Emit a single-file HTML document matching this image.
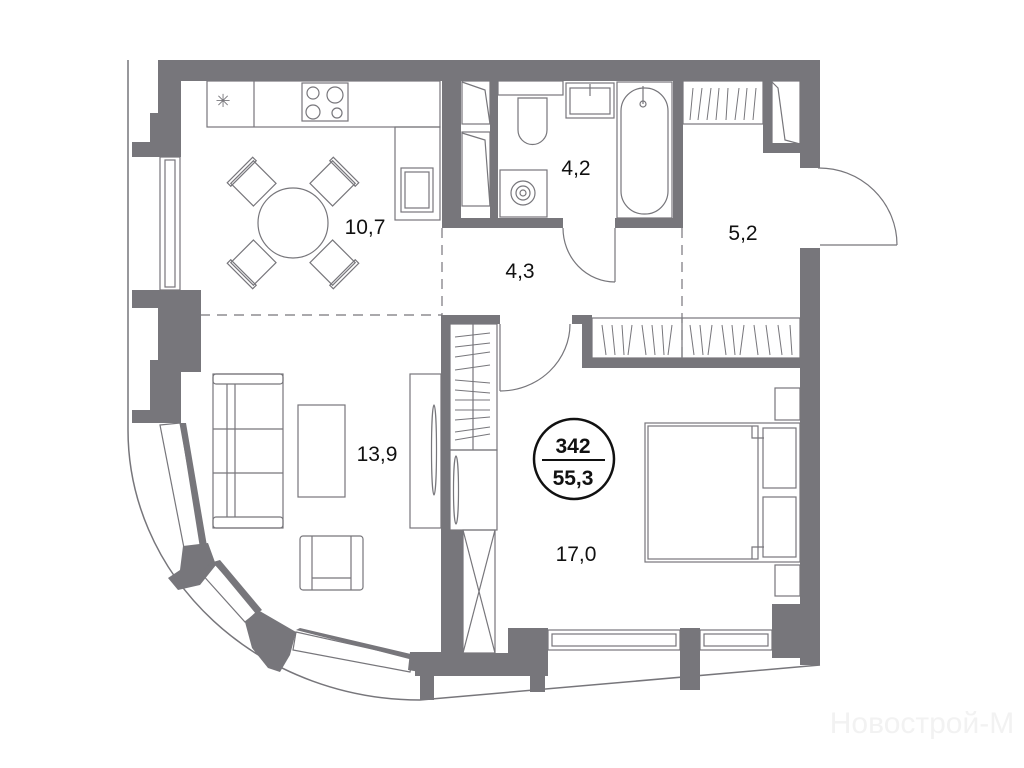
<!DOCTYPE html>
<html><head><meta charset="utf-8"><style>
html,body{margin:0;padding:0;background:#fff;width:1024px;height:768px;overflow:hidden}
svg{display:block}
text{font-family:"Liberation Sans",sans-serif}
</style></head><body>
<svg width="1024" height="768" viewBox="0 0 1024 768" xmlns="http://www.w3.org/2000/svg">
<g fill="none" stroke="#77767b" stroke-width="1.5">
<path d="M128,60 L128,430 A292,270 0 0 0 420,700 L820,665"/>
</g>
<g fill="#77767b">
<rect x="158" y="60" width="662" height="21"/>
<rect x="158" y="60" width="23" height="97"/>
<rect x="150" y="113" width="10" height="44"/>
<rect x="132" y="142" width="49" height="15"/>
<rect x="132" y="290" width="49" height="18"/>
<rect x="158" y="290" width="43" height="82"/>
<rect x="150" y="360" width="31" height="63"/>
<rect x="132" y="410" width="49" height="13"/>
<polygon points="180,423 186,423 207,546 200,548"/>
<polygon points="183,546 208,543 216,565 200,585 178,590 168,578 180,570"/>
<polygon points="213,562 220,560 262,610 256,614"/>
<polygon points="245,622 258,610 296,632 290,655 280,672 268,668 252,648"/>
<polygon points="296,630 300,628 415,655 413,660"/>
<polygon points="410,652 445,652 445,676 434,676 434,700 420,700 420,672 408,670"/>
<rect x="415" y="653" width="130" height="23"/>
<rect x="508" y="628" width="40" height="48"/>
<rect x="530" y="660" width="15" height="32"/>
<rect x="680" y="628" width="20" height="62"/>
<rect x="772" y="604" width="48" height="54"/>
<rect x="800" y="248" width="20" height="417"/>
<rect x="800" y="60" width="20" height="108"/>
<rect x="442" y="60" width="19" height="168"/>
<rect x="490" y="80" width="8" height="140"/>
<rect x="442" y="218" width="121" height="10"/>
<rect x="615" y="218" width="68" height="10"/>
<rect x="673" y="60" width="10" height="168"/>
<rect x="763" y="80" width="9" height="73"/>
<rect x="763" y="143" width="37" height="10"/>
<rect x="441" y="315" width="59" height="9"/>
<rect x="441" y="315" width="9" height="345"/>
<rect x="441" y="530" width="22" height="128"/>
<rect x="572" y="315" width="20" height="9"/>
<rect x="582" y="315" width="10" height="53"/>
<rect x="582" y="358" width="218" height="10"/>
</g>
<g fill="none" stroke="#77767b" stroke-width="1.2">
<rect x="160" y="157" width="20" height="133"/>
<rect x="165" y="160" width="10" height="127"/>
<polygon points="160,425 180,423 202,545 184,548"/>
<polygon points="200,572 213,562 258,612 245,622"/>
<polygon points="293,650 296,632 413,658 410,672"/>
<rect x="548" y="630" width="132" height="20"/>
<rect x="552" y="634" width="124" height="12"/>
<rect x="700" y="630" width="72" height="20"/>
<rect x="704" y="634" width="64" height="12"/>
</g>
<g stroke="#77767b" stroke-width="1.2" stroke-dasharray="10,7" fill="none">
<line x1="442" y1="228" x2="442" y2="315"/>
<line x1="200" y1="315" x2="442" y2="315"/>
<line x1="682" y1="228" x2="682" y2="358"/>
</g>
<g fill="none" stroke="#77767b" stroke-width="1.2">
<rect x="207" y="81" width="233" height="46"/>
<line x1="254" y1="81" x2="254" y2="127"/>
<rect x="302" y="83" width="46" height="38"/>
<circle cx="313" cy="93" r="6"/><circle cx="335" cy="95" r="8"/>
<circle cx="313" cy="112" r="7"/><circle cx="337" cy="113" r="5"/>
<rect x="395" y="127" width="45" height="93"/>
<rect x="401" y="168" width="32" height="44"/><rect x="405" y="172" width="24" height="36"/>
<circle cx="293" cy="223" r="35"/>
<g transform="translate(293,223)">
<g transform="rotate(-45)"><rect x="-16" y="-72" width="32" height="32"/><rect x="-18" y="-75" width="36" height="5"/></g>
<g transform="rotate(45)"><rect x="-16" y="-72" width="32" height="32"/><rect x="-18" y="-75" width="36" height="5"/></g>
<g transform="rotate(135)"><rect x="-16" y="-72" width="32" height="32"/><rect x="-18" y="-75" width="36" height="5"/></g>
<g transform="rotate(225)"><rect x="-16" y="-72" width="32" height="32"/><rect x="-18" y="-75" width="36" height="5"/></g>
</g>
<rect x="462" y="81" width="28" height="43"/><rect x="462" y="132" width="28" height="74"/>
<polyline points="462,82 485,90 490,124"/><polyline points="462,133 485,140 490,206"/>
<rect x="498" y="81" width="65" height="14"/>
<path d="M518,98 L547,98 L547,130 A14,14 0 0 1 518,130 Z"/>
<rect x="566" y="83" width="48" height="35"/><rect x="570" y="88" width="40" height="26"/>
<line x1="590" y1="84" x2="590" y2="96"/>
<rect x="617" y="82" width="55" height="136"/>
<rect x="621" y="88" width="47" height="126" rx="23"/>
<circle cx="643" cy="104" r="3"/><line x1="643" y1="86" x2="643" y2="104"/>
<rect x="500" y="170" width="47" height="47"/>
<circle cx="523" cy="193" r="12"/><circle cx="523" cy="193" r="7"/><circle cx="523" cy="193" r="3"/>
<rect x="683" y="81" width="80" height="43"/>
<g stroke-width="1">
<line x1="690" y1="120" x2="693" y2="88"/><line x1="698" y1="120" x2="702" y2="88"/><line x1="707" y1="120" x2="711" y2="88"/><line x1="716" y1="120" x2="719" y2="88"/><line x1="726" y1="120" x2="728" y2="88"/><line x1="735" y1="120" x2="739" y2="88"/><line x1="744" y1="120" x2="747" y2="88"/><line x1="753" y1="120" x2="756" y2="88"/>
</g>
<rect x="772" y="81" width="28" height="63"/><polyline points="772,82 778,88 785,140 800,144"/>
<rect x="592" y="318" width="208" height="40"/>
<line x1="682" y1="318" x2="682" y2="358"/>
<g stroke-width="1">
<line x1="602" y1="325" x2="606" y2="355"/><line x1="612" y1="325" x2="615" y2="355"/><line x1="622" y1="325" x2="624" y2="355"/><line x1="632" y1="325" x2="628" y2="355"/><line x1="642" y1="325" x2="646" y2="355"/><line x1="652" y1="325" x2="655" y2="355"/><line x1="662" y1="325" x2="664" y2="355"/><line x1="672" y1="325" x2="668" y2="355"/><line x1="690" y1="325" x2="694" y2="355"/><line x1="700" y1="325" x2="703" y2="355"/><line x1="712" y1="325" x2="708" y2="355"/><line x1="722" y1="325" x2="726" y2="355"/><line x1="732" y1="325" x2="735" y2="355"/><line x1="744" y1="325" x2="740" y2="355"/><line x1="754" y1="325" x2="758" y2="355"/><line x1="766" y1="325" x2="770" y2="355"/><line x1="778" y1="325" x2="782" y2="355"/><line x1="790" y1="325" x2="792" y2="355"/>
</g>
<rect x="450" y="324" width="47" height="126"/>
<line x1="473" y1="324" x2="473" y2="450"/>
<g stroke-width="1">
<line x1="455" y1="337" x2="490" y2="333"/><line x1="455" y1="347" x2="490" y2="343"/><line x1="455" y1="357" x2="490" y2="352"/><line x1="455" y1="370" x2="490" y2="365"/><line x1="455" y1="380" x2="490" y2="383"/><line x1="455" y1="390" x2="490" y2="393"/><line x1="455" y1="400" x2="490" y2="400"/><line x1="455" y1="410" x2="490" y2="410"/><line x1="455" y1="420" x2="490" y2="417"/><line x1="455" y1="432" x2="490" y2="427"/><line x1="455" y1="440" x2="490" y2="434"/>
</g>
<rect x="450" y="450" width="47" height="80"/>
<ellipse cx="456" cy="490" rx="2.5" ry="34"/>
<rect x="463" y="530" width="32" height="123"/>
<line x1="463" y1="530" x2="495" y2="653"/><line x1="495" y1="530" x2="463" y2="653"/>
<rect x="410" y="374" width="31" height="154"/>
<ellipse cx="434" cy="450" rx="2.5" ry="45"/>
<rect x="213" y="374" width="70" height="154"/>
<rect x="213" y="374" width="70" height="10" rx="3"/><rect x="213" y="517" width="70" height="11" rx="3"/>
<line x1="227" y1="384" x2="227" y2="517"/><line x1="235" y1="384" x2="235" y2="517"/>
<line x1="213" y1="429" x2="283" y2="429"/><line x1="213" y1="473" x2="283" y2="473"/>
<rect x="298" y="405" width="47" height="92"/>
<rect x="300" y="536" width="63" height="54" rx="3"/>
<line x1="312" y1="536" x2="312" y2="590"/><line x1="351" y1="536" x2="351" y2="590"/>
<line x1="312" y1="578" x2="351" y2="578"/>
<rect x="645" y="423" width="155" height="139"/>
<rect x="648" y="426" width="110" height="133"/>
<rect x="763" y="428" width="33" height="60"/><rect x="763" y="497" width="33" height="60"/>
<polyline points="752,426 752,438 764,438"/>
<polyline points="752,559 752,547 764,547"/>
<rect x="775" y="388" width="25" height="32"/><rect x="775" y="565" width="25" height="31"/>
<line x1="615" y1="228" x2="615" y2="282"/>
<path d="M563,228 A52,54 0 0 0 615,282"/>
<line x1="500" y1="324" x2="500" y2="391"/>
<path d="M570,324 A70,67 0 0 1 500,391"/>
<line x1="820" y1="245" x2="897" y2="245"/>
<path d="M818,168 A78,77 0 0 1 897,245"/>
</g>
<text x="223" y="107" font-size="18" fill="#77767b" text-anchor="middle">✳</text>
<circle cx="574" cy="459" r="40" fill="none" stroke="#111" stroke-width="2.5"/>
<line x1="542" y1="460" x2="605" y2="460" stroke="#111" stroke-width="2"/>
<g fill="#111" font-weight="bold" font-size="21" text-anchor="middle">
<text x="573" y="453">342</text>
<text x="573" y="485">55,3</text>
</g>
<g fill="#111" font-size="21" text-anchor="middle">
<text x="365" y="234">10,7</text>
<text x="576" y="175">4,2</text>
<text x="520" y="278">4,3</text>
<text x="743" y="240">5,2</text>
<text x="377" y="461">13,9</text>
<text x="576" y="561">17,0</text>
</g>
<text x="922" y="733" font-size="30" fill="#f2f2f2" text-anchor="middle">Новострой-М</text>
</svg>
</body></html>
